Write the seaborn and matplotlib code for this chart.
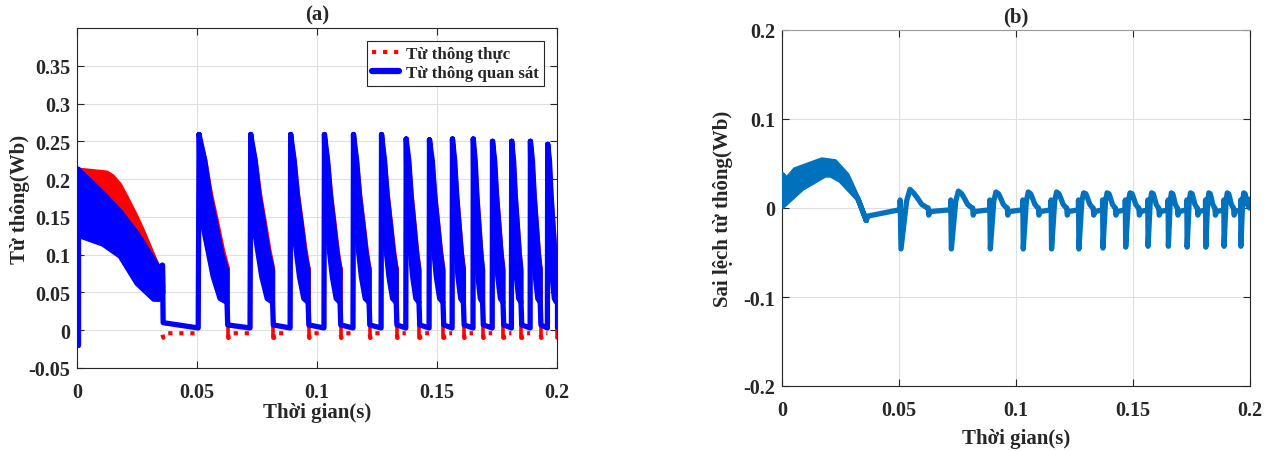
import matplotlib
matplotlib.use("Agg")
import matplotlib.pyplot as plt
from matplotlib.lines import Line2D
import pandas as pd
import seaborn as sns

# ==========================================
# DATA
# ==========================================
# switching pulses, shared by both panels (s)
pulse_start = [0.0505, 0.0721, 0.0888, 0.1029, 0.1150, 0.1267, 0.1370,
               0.1467, 0.1563, 0.1650, 0.1730, 0.1810, 0.1888, 0.1960]
pulse_end = [0.0625, 0.0815, 0.0963, 0.1096, 0.1217, 0.1330, 0.1425,
             0.1525, 0.1610, 0.1690, 0.1775, 0.1850, 0.1930, 0.1998]
pulse_peak = [0.259, 0.259, 0.259, 0.259, 0.259, 0.259, 0.253,
              0.252, 0.253, 0.253, 0.250, 0.250, 0.250, 0.246]

# envelope of one observed-flux pulse: fraction of pulse width -> Wb
obs_up_frac = [0.23, 0.41, 0.65, 0.82, 1.0]
obs_up_val = [0.224, 0.177, 0.133, 0.101, 0.079]
obs_lo_frac = [0.12, 0.29, 0.52, 0.76, 1.0]
obs_lo_val = [0.147, 0.115, 0.071, 0.042, 0.037]
# real flux sticks out a little on the right side of each pulse
real_up_frac = [0.25, 0.45, 0.69, 0.87, 1.03]
real_up_val = [0.226, 0.181, 0.139, 0.106, 0.083]

# start-up transient (0 .. 0.036 s)
obs_init_up_t = [0.0004, 0.0108, 0.018, 0.025, 0.034, 0.0356]
obs_init_up_v = [0.213, 0.181, 0.157, 0.128, 0.083, 0.086]
obs_init_lo_t = [0.0004, 0.002, 0.0108, 0.018, 0.025, 0.032, 0.0345, 0.0358]
obs_init_lo_v = [0.127, 0.124, 0.114, 0.098, 0.062, 0.041, 0.041, 0.050]
real_init_up_t = [0.0004, 0.0125, 0.015, 0.018, 0.021, 0.025, 0.028, 0.0305, 0.034, 0.0356]
real_init_up_v = [0.213, 0.209, 0.204, 0.193, 0.175, 0.150, 0.129, 0.110, 0.084, 0.081]

# flux between pulses
obs_gap_hi = [0.010] + [0.007] * 13
obs_gap_lo = 0.003
real_gap = -0.004
real_dip = -0.010

# panel (b): flux error
err_init_up_t = [0.0003, 0.002, 0.0056, 0.0171, 0.0226, 0.0278, 0.0325, 0.036]
err_init_up_v = [0.037, 0.032, 0.043, 0.054, 0.052, 0.037, 0.010, -0.014]
err_init_lo_t = [0.0003, 0.0086, 0.0184, 0.0209, 0.025, 0.0325, 0.036]
err_init_lo_v = [0.002, 0.022, 0.037, 0.037, 0.031, 0.010, -0.014]
err_bottom = [-0.046, -0.046, -0.046, -0.046, -0.046, -0.046, -0.045,
              -0.044, -0.043, -0.043, -0.044, -0.044, -0.043, -0.043]
err_peak = [0.021, 0.019, 0.018, 0.018, 0.018, 0.017, 0.017,
            0.017, 0.017, 0.017, 0.017, 0.017, 0.017, 0.017]
err_frac = [0.23, 0.35, 0.5, 0.62, 0.77, 0.92, 1.0]
err_shape = [0.008, None, 0.016, 0.011, 0.004, 0.001, 0.0]   # None = pulse peak
err_gap_after = -0.008
err_gap_level = -0.003

RED = "#ff0000"
BLUE = "#0000ff"
ERR = "#0072bd"
ROUND = dict(solid_joinstyle="round", solid_capstyle="round")

# ==========================================
# BUILD PATHS
# ==========================================
def pulse_band(t0, t1, peak, uf, uv, lf, lv):
    w = t1 - t0
    xs = [t0 + 0.03 * w] + [t0 + f * w for f in uf] + [t0 + f * w for f in reversed(lf)]
    ys = [peak] + list(uv) + list(reversed(lv))
    return xs, ys

obs_polys, real_polys = [], []
obs_lines, real_lines, real_dots = [], [], []

# start-up transient
xs = obs_init_up_t + obs_init_lo_t[::-1]
ys = obs_init_up_v + obs_init_lo_v[::-1]
obs_polys.append((xs, ys))
obs_lines.append((xs + [xs[0]], ys + [ys[0]]))
obs_lines.append(([0.0003, 0.0003], [-0.019, 0.213]))
xs = real_init_up_t + obs_init_lo_t[::-1]
ys = real_init_up_v + obs_init_lo_v[::-1]
real_polys.append((xs, ys))
real_lines.append((xs + [xs[0]], ys + [ys[0]]))

prev_t, prev_v = obs_init_up_t[-1], obs_init_up_v[-1]
prev_real_t = real_init_up_t[-1]
for i, (t0, t1, pk) in enumerate(zip(pulse_start, pulse_end, pulse_peak)):
    w = t1 - t0
    # gap before this pulse
    obs_lines.append(([prev_t, prev_t + 0.0003, t0, t0 + 0.03 * w],
                      [prev_v, obs_gap_hi[i], obs_gap_lo, pk]))
    real_dots.append(([prev_real_t, prev_real_t + 0.0004, prev_real_t + 0.0012, t0],
                      [real_dip + 0.004, real_dip, real_gap, real_gap]))
    # pulse bands
    xs, ys = pulse_band(t0, t1, pk, obs_up_frac, obs_up_val, obs_lo_frac, obs_lo_val)
    obs_polys.append((xs, ys))
    obs_lines.append((xs + [xs[0]], ys + [ys[0]]))
    xs, ys = pulse_band(t0, t1, pk, real_up_frac, real_up_val, obs_lo_frac, obs_lo_val)
    real_polys.append((xs, ys))
    real_lines.append((xs + [xs[0]], ys + [ys[0]]))
    real_lines.append(([t1 + 0.03 * w, t1 + 0.03 * w], [real_up_val[-1], real_dip]))
    prev_t, prev_v = t1, obs_lo_val[-1]
    prev_real_t = t1 + 0.03 * w
obs_lines.append(([prev_t, prev_t], [prev_v, 0.004]))

# panel (b) main path
err_path_t = [0.036, 0.0368, pulse_start[0] - 0.0003]
err_path_v = [-0.014, -0.009, -0.002]
for t0, t1, bt, pk in zip(pulse_start, pulse_end, err_bottom, err_peak):
    w = t1 - t0
    err_path_t += [t0, t0, t0 + 0.03 * w]
    err_path_v += [err_gap_level + 0.001, 0.009, bt]
    for f, v in zip(err_frac, err_shape):
        err_path_t.append(t0 + f * w)
        err_path_v.append(pk if v is None else v)
    err_path_t += [t1 + 0.0002, t1 + 0.0008]
    err_path_v += [err_gap_after, err_gap_level - 0.001]
err_path_t[-2:] = [0.1999, 0.2]
err_path_v[-2:] = [0.008, 0.010]

def to_frame(segs):
    rows = []
    for k, (xs, ys) in enumerate(segs):
        for j, (x, y) in enumerate(zip(xs, ys)):
            rows.append({"t": x, "v": y, "seg": k, "order": j})
    return pd.DataFrame(rows)

# ==========================================
# PLOT
# ==========================================
sns.set_theme(style="ticks")
plt.rcParams["font.family"] = ["Liberation Serif", "DejaVu Serif"]
plt.rcParams["font.weight"] = "bold"
plt.rcParams["axes.unicode_minus"] = False

fig = plt.figure(figsize=(12.72, 4.52), dpi=100)
ax_a = fig.add_axes([77 / 1272, 1 - 369 / 452, 480 / 1272, 340 / 452])
ax_b = fig.add_axes([782 / 1272, 1 - 387 / 452, 468 / 1272, 356 / 452])

# ---- (a) ----
for xs, ys in real_polys:
    ax_a.fill(xs, ys, color=RED, lw=0, zorder=2)
sns.lineplot(data=to_frame(real_lines), x="t", y="v", units="seg", estimator=None,
             sort=False, color=RED, lw=2.6, ax=ax_a, zorder=2, **ROUND)
sns.lineplot(data=to_frame(real_dots), x="t", y="v", units="seg", estimator=None,
             sort=False, color=RED, lw=3, linestyle=":", ax=ax_a, zorder=2)
for xs, ys in obs_polys:
    ax_a.fill(xs, ys, color=BLUE, lw=0, zorder=3)
sns.lineplot(data=to_frame(obs_lines), x="t", y="v", units="seg", estimator=None,
             sort=False, color=BLUE, lw=3.8, ax=ax_a, zorder=3, **ROUND)

ax_a.set_xlim(0, 0.2)
ax_a.set_ylim(-0.05, 0.4)
ax_a.set_xticks([0, 0.05, 0.1, 0.15, 0.2])
ax_a.set_xticklabels(["0", "0.05", "0.1", "0.15", "0.2"])
ax_a.set_yticks([-0.05, 0, 0.05, 0.1, 0.15, 0.2, 0.25, 0.3, 0.35])
ax_a.set_yticklabels(["-0.05", "0", "0.05", "0.1", "0.15", "0.2", "0.25", "0.3", "0.35"])
ax_a.set_title("(a)", fontsize=15, fontweight="bold", pad=6)
ax_a.set_xlabel("Thời gian(s)", fontsize=15, fontweight="bold", labelpad=0)
ax_a.set_ylabel("Từ thông(Wb)", fontsize=15, fontweight="bold", labelpad=-1)

handles = [Line2D([], [], color=RED, lw=3, linestyle=":"),
           Line2D([], [], color=BLUE, lw=4.5)]
leg = ax_a.legend(handles, ["Từ thông thực", "Từ thông quan sát"], loc="upper right",
                  bbox_to_anchor=(0.973, 0.962), borderaxespad=0, fancybox=False,
                  framealpha=1, edgecolor="#262626", handlelength=1.6,
                  handletextpad=0.4, borderpad=0.3, labelspacing=0.2,
                  prop={"size": 12.2, "weight": "bold"})
leg.get_frame().set_linewidth(0.8)

# ---- (b) ----
ax_b.fill(err_init_up_t + err_init_lo_t[::-1], err_init_up_v + err_init_lo_v[::-1],
          color=ERR, lw=0, zorder=3)
init_out = [(err_init_up_t + err_init_lo_t[::-1] + [err_init_up_t[0]],
             err_init_up_v + err_init_lo_v[::-1] + [err_init_up_v[0]]),
            (err_path_t, err_path_v)]
sns.lineplot(data=to_frame(init_out), x="t", y="v", units="seg", estimator=None,
             sort=False, color=ERR, lw=3.8, ax=ax_b, zorder=3, **ROUND)

ax_b.set_xlim(0, 0.2)
ax_b.set_ylim(-0.2, 0.2)
ax_b.set_xticks([0, 0.05, 0.1, 0.15, 0.2])
ax_b.set_xticklabels(["0", "0.05", "0.1", "0.15", "0.2"])
ax_b.set_yticks([-0.2, -0.1, 0, 0.1, 0.2])
ax_b.set_yticklabels(["-0.2", "-0.1", "0", "0.1", "0.2"])
ax_b.set_title("(b)", fontsize=15, fontweight="bold", pad=6)
ax_b.set_xlabel("Thời gian(s)", fontsize=15, fontweight="bold", labelpad=6)
ax_b.set_ylabel("Sai lệch từ thông(Wb)", fontsize=15, fontweight="bold", labelpad=7)

for ax in (ax_a, ax_b):
    ax.grid(True, color="#e0e0e0", lw=0.8, zorder=0)
    ax.set_axisbelow(True)
    ax.tick_params(direction="in", length=5, width=0.8, top=True, right=True,
                   labelsize=14.5, colors="#262626")
    ax.tick_params(axis="x", pad=10)
    ax.tick_params(axis="y", pad=5)
    for lab in ax.get_xticklabels() + ax.get_yticklabels():
        lab.set_fontweight("bold")
    for sp in ax.spines.values():
        sp.set_visible(True)
        sp.set_color("#262626")
        sp.set_linewidth(0.8)
ax_b.spines["top"].set_color("#9a9a9a")

fig.savefig("out.png", dpi=100)
